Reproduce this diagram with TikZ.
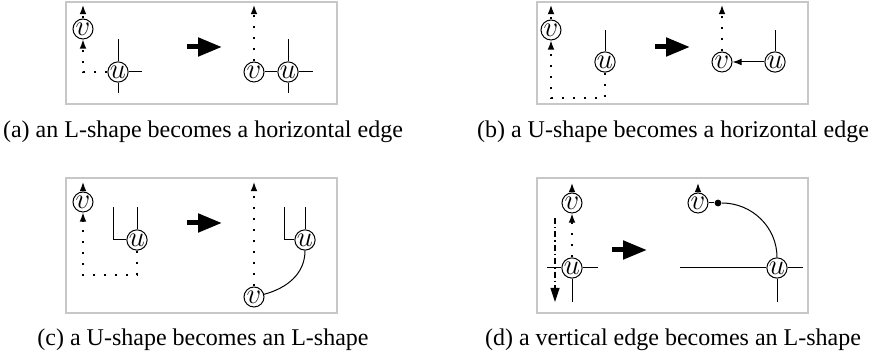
\documentclass[tikz,border=0pt]{standalone}
\usepackage{fontspec}
\setmainfont{Liberation Serif}
\usetikzlibrary{arrows.meta}

\begin{document}
\begin{tikzpicture}[x=0.5pt, y=-0.5pt, every node/.style={font=\fontsize{12}{14}\selectfont},
	>={Latex[length=4.6pt,width=3.4pt]},
	vtx/.style={draw, circle, inner sep=0pt, minimum size=10pt, line width=0.5pt, font=\fontsize{14}{14}\selectfont},
	edge/.style={line width=0.5pt},
	dots/.style={line width=0.7pt, dash pattern=on 1.2pt off 4.3pt},
	dashdot/.style={line width=0.6pt, dash pattern=on 3pt off 1.5pt on 0.7pt off 1.5pt, -{Triangle[length=7pt,width=4.5pt]}},
	frame/.style={draw=black!22, line width=0.9pt},
	bigarrow/.style={line width=2.5pt, -{Triangle[length=12pt,width=9pt]}},
	caption/.style={anchor=base}]
	\useasboundingbox (0,0) rectangle (874,356);
	% (a) L-shape -> horizontal edge
	\draw[frame] (66,2) rectangle (337,104);
	\node[vtx] (a-v) at (83,29) {$v$};
	\node[vtx] (a-u) at (118,72) {$u$};
	\coordinate (a-top) at (83,5);
	\coordinate (a-c) at (83,72);
	\coordinate (a-n) at (118,39);
	\coordinate (a-s) at (118,93);
	\coordinate (a-e) at (142,72);
	\draw[dots,->] (a-v) -- (a-top);
	\draw[dots,->] (a-u) -- (a-c) -- (a-v);
	\draw[edge] (a-u) -- (a-n);
	\draw[edge] (a-u) -- (a-s);
	\draw[edge] (a-u) -- (a-e);
	\coordinate (a-from) at (187,47);
	\coordinate (a-to) at (222,47);
	\draw[bigarrow] (a-from) -- (a-to);
	\node[vtx] (a-v2) at (254,72) {$v$};
	\node[vtx] (a-u2) at (288,72) {$u$};
	\coordinate (a-top2) at (254,5);
	\coordinate (a-n2) at (288,39);
	\coordinate (a-s2) at (288,93);
	\coordinate (a-e2) at (313,72);
	\draw[dots,->] (a-v2) -- (a-top2);
	\draw[edge] (a-v2) -- (a-u2);
	\draw[edge] (a-u2) -- (a-n2);
	\draw[edge] (a-u2) -- (a-s2);
	\draw[edge] (a-u2) -- (a-e2);
	\node[caption] (a-cap) at (203,138) {(a) an L-shape becomes a horizontal edge};
	% (b) U-shape -> horizontal edge
	\draw[frame] (537,2) rectangle (808,104);
	\node[vtx] (b-v) at (551,30) {$v$};
	\node[vtx] (b-u) at (605,62) {$u$};
	\coordinate (b-top) at (551,5);
	\coordinate (b-n) at (605,30);
	\coordinate (b-c1) at (605,98);
	\coordinate (b-c2) at (551,98);
	\draw[dots,->] (b-v) -- (b-top);
	\draw[dots,->] (b-u) -- (b-c1) -- (b-c2) -- (b-v);
	\draw[edge] (b-u) -- (b-n);
	\coordinate (b-from) at (655,47);
	\coordinate (b-to) at (690,47);
	\draw[bigarrow] (b-from) -- (b-to);
	\node[vtx] (b-v2) at (722,62) {$v$};
	\node[vtx] (b-u2) at (775,62) {$u$};
	\coordinate (b-top2) at (722,5);
	\coordinate (b-n2) at (775,30);
	\draw[dots,->] (b-v2) -- (b-top2);
	\draw[edge,->] (b-u2) -- (b-v2);
	\draw[edge] (b-u2) -- (b-n2);
	\node[caption] (b-cap) at (673,138) {(b) a U-shape becomes a horizontal edge};
	% (c) U-shape -> L-shape
	\draw[frame] (66,178) rectangle (337,313);
	\node[vtx] (c-v) at (83,202) {$v$};
	\node[vtx] (c-u) at (137,240) {$u$};
	\coordinate (c-top) at (83,182);
	\coordinate (c-c1) at (137,275);
	\coordinate (c-c2) at (83,275);
	\coordinate (c-n) at (137,207);
	\coordinate (c-w) at (113,240);
	\coordinate (c-wn) at (113,207);
	\draw[dots,->] (c-v) -- (c-top);
	\draw[dots,->] (c-u) -- (c-c1) -- (c-c2) -- (c-v);
	\draw[edge] (c-u) -- (c-n);
	\draw[edge] (c-u) -- (c-w) -- (c-wn);
	\coordinate (c-from) at (187,223);
	\coordinate (c-to) at (222,223);
	\draw[bigarrow] (c-from) -- (c-to);
	\node[vtx] (c-u2) at (305,240) {$u$};
	\node[vtx] (c-v2) at (254,297) {$v$};
	\coordinate (c-top2) at (254,182);
	\coordinate (c-n2) at (305,207);
	\coordinate (c-w2) at (284,240);
	\coordinate (c-wn2) at (284,207);
	\draw[dots,->] (c-v2) -- (c-top2);
	\draw[edge] (c-u2) -- (c-n2);
	\draw[edge] (c-u2) -- (c-w2) -- (c-wn2);
	\draw[edge] (c-v2) to[out=15,in=-90] (c-u2);
	\node[caption] (c-cap) at (203,346) {(c) a U-shape becomes an L-shape};
	% (d) vertical edge -> L-shape
	\draw[frame] (537,178) rectangle (808,313);
	\node[vtx] (d-v) at (572,203) {$v$};
	\node[vtx] (d-u) at (572,268) {$u$};
	\coordinate (d-top) at (572,183);
	\coordinate (d-w) at (547,268);
	\coordinate (d-e) at (598,268);
	\coordinate (d-s) at (572,302);
	\coordinate (d-dd1) at (555,218);
	\coordinate (d-dd2) at (555,302);
	\draw[dots,->] (d-v) -- (d-top);
	\draw[dots,->] (d-u) -- (d-v);
	\draw[edge] (d-w) -- (d-u) -- (d-e);
	\draw[edge] (d-u) -- (d-s);
	\draw[dashdot] (d-dd1) -- (d-dd2);
	\coordinate (d-from) at (612,250);
	\coordinate (d-to) at (647,250);
	\draw[bigarrow] (d-from) -- (d-to);
	\node[vtx] (d-v2) at (698,203) {$v$};
	\node[vtx] (d-u2) at (777,268) {$u$};
	\node[circle, fill, inner sep=0pt, minimum size=3.4pt] (d-p) at (718,203) {};
	\coordinate (d-top2) at (698,183);
	\coordinate (d-w2) at (680,268);
	\coordinate (d-e2) at (803,268);
	\coordinate (d-s2) at (777,302);
	\draw[dots,->] (d-v2) -- (d-top2);
	\draw[edge] (d-v2) -- (d-p);
	\draw[edge] (d-p) to[out=0,in=90] (d-u2);
	\draw[edge] (d-w2) -- (d-u2) -- (d-e2);
	\draw[edge] (d-u2) -- (d-s2);
	\node[caption] (d-cap) at (673,346) {(d) a vertical edge becomes an L-shape};
\end{tikzpicture}
\end{document}
